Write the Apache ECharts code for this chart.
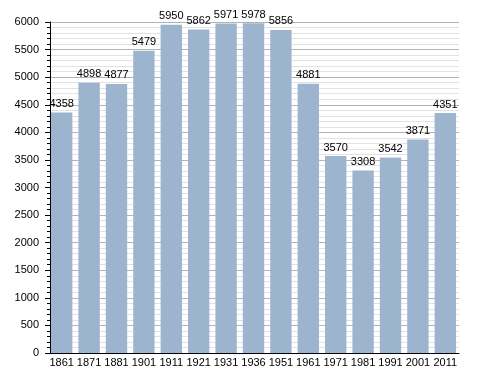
<!DOCTYPE html>
<html>
<head>
<meta charset="utf-8">
<script src="https://cdn.jsdelivr.net/npm/echarts@6/dist/echarts.min.js"></script>
<style>
html,body{margin:0;padding:0;background:#fff;}
#chart{width:488px;height:373px;}
</style>
</head>
<body>
<div id="chart"></div>
<script>
var years = ["1861","1871","1881","1901","1911","1921","1931","1936","1951","1961","1971","1981","1991","2001","2011"];
var population = [4358,4898,4877,5479,5950,5862,5971,5978,5856,4881,3570,3308,3542,3871,4351];
var yTicks = [0,500,1000,1500,2000,2500,3000,3500,4000,4500,5000,5500,6000];

var chart = echarts.init(document.getElementById('chart'), null, {renderer:'canvas'});
var font = 'Liberation Sans, Arial, sans-serif';
chart.setOption({
  animation:false,
  grid:{left:48, right:29, top:22, bottom:20, containLabel:false},
  xAxis:{
    type:'category',
    data:years,
    boundaryGap:true,
    axisLine:{lineStyle:{color:'#000', width:1}},
    axisTick:{show:false},
    axisLabel:{color:'#000', fontSize:11, fontFamily:font, margin:4, interval:0}
  },
  yAxis:{
    type:'value',
    min:yTicks[0],
    max:yTicks[yTicks.length-1],
    interval:500,
    offset:-2,
    axisLine:{show:true, lineStyle:{color:'#000', width:1}},
    axisTick:{show:true, inside:false, length:5, lineStyle:{color:'#000'}},
    minorTick:{show:true, splitNumber:5, length:3, lineStyle:{color:'#000'}},
    axisLabel:{color:'#000', fontSize:11, fontFamily:font, margin:11, formatter:function(v){return String(v);}},
    splitLine:{show:true, lineStyle:{color:'#b4b4b4', width:1}},
    minorSplitLine:{show:true, lineStyle:{color:'#e2e2e2', width:1}}
  },
  series:[{
    type:'bar',
    data:population,
    barWidth:'78%',
    itemStyle:{color:'#9db4cf'},
    label:{show:true, position:'top', distance:3, color:'#000', fontSize:11, fontFamily:font}
  }]
});
</script>
</body>
</html>
